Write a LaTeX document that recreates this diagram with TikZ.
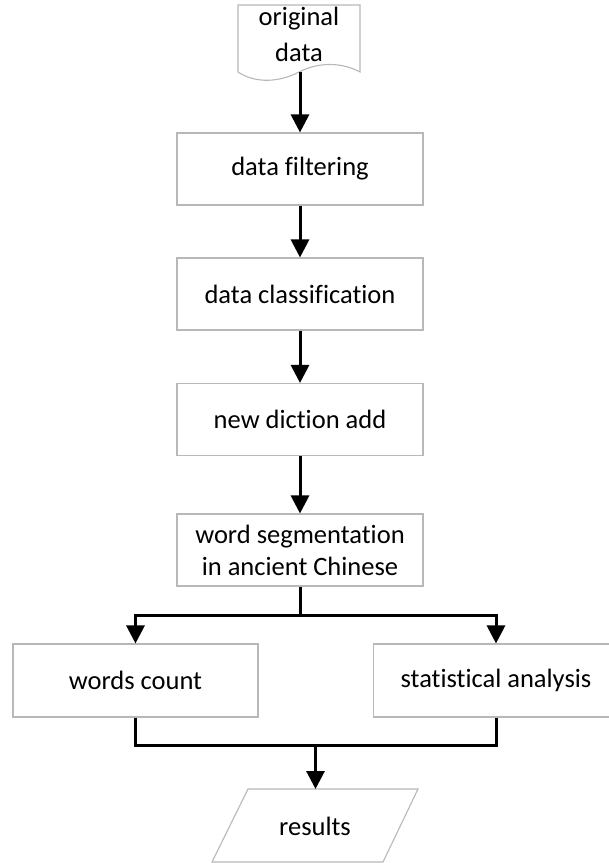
\documentclass[tikz,border=0pt]{standalone}
\usepackage{fontspec}
\setmainfont[Ligatures=NoCommon]{Carlito}
\usetikzlibrary{arrows.meta}
\tikzset{
  procbox/.style={draw=black!28, line width=1.1pt, fill=white, minimum width=246pt, minimum height=72pt, inner sep=0pt, align=center, font=\fontsize{26.5}{32}\selectfont},
  txt/.style={inner sep=0pt, align=center, font=\fontsize{26.5}{32}\selectfont},
  outline/.style={draw=black!28, line width=1.1pt, fill=white},
  arr/.style={line width=3pt, -{Triangle[width=18pt,length=18pt]}},
  wire/.style={line width=3pt}
}
\begin{document}
\begin{tikzpicture}[x=1pt,y=-1pt]
\useasboundingbox (0,0) rectangle (609,863);
\clip (0,0) rectangle (609,863);
\fill[white] (0,0) rectangle (609,863);
% document shape
\draw[outline] (238,5) -- (360,5) -- (360,72)
  .. controls (342,62) and (318,62) .. (299,72)
  .. controls (280,82) and (256,84) .. (238,72) -- cycle;
\node[txt, font=\fontsize{26.5}{36}\selectfont] (doc) at (299,34) {original\\data};
\coordinate (docb) at (300,72);
% process boxes
\node[procbox] (filt) at (300,169) {data filtering};
\node[procbox] (cls) at (300,294) {data classification};
\node[procbox] (dict) at (300,419.5) {new diction add};
\node[procbox] (seg) at (300,550) {word segmentation\\in ancient Chinese};
\node[procbox, minimum width=245pt, minimum height=73pt] (wc) at (135.5,680.5) {words count};
\node[procbox, minimum width=245pt, minimum height=73pt] (sa) at (496,680.5) {statistical analysis};
% results parallelogram
\draw[outline] (248,789) -- (418,789) -- (383,862) -- (212,862) -- cycle;
\node[txt] (res) at (315,826) {results};
\coordinate (restop) at (315.5,789);
% connectors
\draw[arr] (docb) -- (filt.north);
\draw[arr] (filt.south) -- (cls.north);
\draw[arr] (cls.south) -- (dict.north);
\draw[arr] (dict.south) -- (seg.north);
\coordinate (split) at (300,615);
\draw[wire] (seg.south) -- (split);
\draw[arr] (split) -| (wc.north);
\draw[arr] (split) -| (sa.north);
\coordinate (merge) at (315.5,745);
\draw[wire] (wc.south) |- (merge) -| (sa.south);
\draw[arr] (merge) -- (restop);
\end{tikzpicture}
\end{document}
